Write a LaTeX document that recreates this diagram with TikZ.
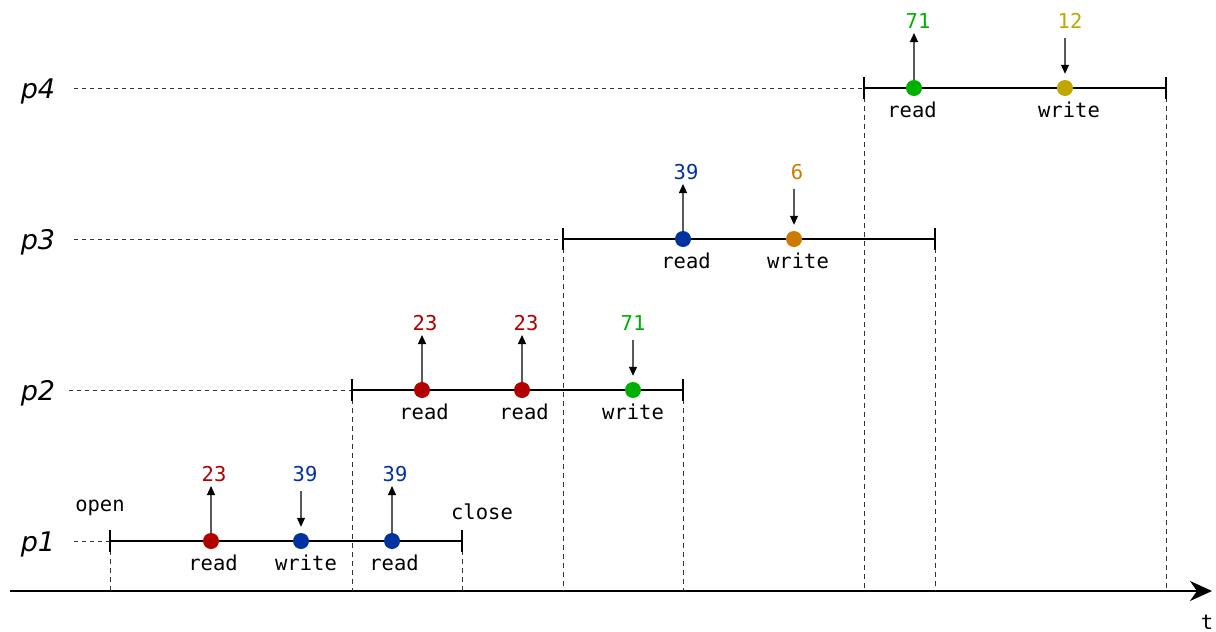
\documentclass[tikz,border=0pt]{standalone}
\usepackage{fontspec}
\setmonofont{DejaVu Sans Mono}
\newfontfamily\rowfont{DejaVu Sans}
\usepackage{tikz}
\usetikzlibrary{arrows.meta, positioning}

\definecolor{valred}{RGB}{178,0,0}
\definecolor{valblue}{RGB}{0,51,160}
\definecolor{valgreen}{RGB}{0,176,0}
\definecolor{valorange}{RGB}{204,122,0}
\definecolor{valolive}{RGB}{191,166,0}

\tikzset{
  proc/.style={font=\rowfont\itshape\fontsize{27}{30}\selectfont, inner sep=0pt},
  opname/.style={font=\ttfamily\fontsize{20.5}{24}\selectfont, inner sep=1pt},
  val/.style={font=\ttfamily\fontsize{20.5}{24}\selectfont, inner sep=4pt, anchor=south},
  event/.style={circle, inner sep=0pt, minimum size=16pt},
  span/.style={line width=2pt},
  tick/.style={line width=2pt},
  leader/.style={dash pattern=on 4pt off 4pt, line width=0.9pt, black!80},
  guide/.style={dash pattern=on 5pt off 4pt, line width=0.9pt, black!80},
  ptr/.style={-{Triangle[length=9pt,width=8pt,black]}, line width=1.1pt, black!65},
}

\begin{document}
\begin{tikzpicture}[x=1pt, y=-1pt]
\useasboundingbox (0,0) rectangle (1216,632);

% time axis
\coordinate (t0) at (10,591);
\coordinate (t1) at (1212,591);
\draw[line width=2pt, -{Stealth[length=22pt,width=20pt,inset=7pt]}] (t0) -- (t1);
\node[opname] (tlab) at (1207,622) {t};

% process rows
\node[proc] (p1) at (38,544) {p1};
\node[proc] (p2) at (38,393) {p2};
\node[proc] (p3) at (38,242) {p3};
\node[proc] (p4) at (38,91) {p4};

\coordinate (a1) at (110,541);  \coordinate (b1) at (462,541);
\coordinate (a2) at (352,390);  \coordinate (b2) at (683,390);
\coordinate (a3) at (563,239);  \coordinate (b3) at (935,239);
\coordinate (a4) at (864,88);   \coordinate (b4) at (1166,88);

\draw[leader, shorten <=19pt] (p1.east |- a1) -- (a1);
\draw[leader, shorten <=14pt] (p2.east |- a2) -- (a2);
\draw[leader, shorten <=19pt] (p3.east |- a3) -- (a3);
\draw[leader, shorten <=19pt] (p4.east |- a4) -- (a4);

\foreach \i in {1,2,3,4} {
  \draw[guide] (a\i) -- (a\i |- t0);
  \draw[guide] (b\i) -- (b\i |- t0);
  \draw[span] (a\i) -- (b\i);
  \draw[tick] ([yshift=-11pt]a\i) -- ([yshift=11pt]a\i);
  \draw[tick] ([yshift=-11pt]b\i) -- ([yshift=11pt]b\i);
}

\node[opname] (open) at (100,508) {open};
\node[opname] (close) at (482,512) {close};

% p1 events
\node[event, fill=valred] (e11) at (211,541) {};
\node[event, fill=valblue] (e12) at (301,541) {};
\node[event, fill=valblue] (e13) at (392,541) {};
\node[opname, below=5pt of e11, xshift=2pt] (n11) {read};
\node[opname, below=5pt of e12, xshift=5pt] (n12) {write};
\node[opname, below=5pt of e13, xshift=2pt] (n13) {read};
\node[val, text=valred] (v11) at (214,486) {23};
\node[val, text=valblue] (v12) at (305,486) {39};
\node[val, text=valblue] (v13) at (395,486) {39};
\draw[ptr] (e11.north) -- (v11.south -| e11);
\draw[ptr, shorten <=5pt, shorten >=6pt] (v12.south -| e12) -- (e12.north);
\draw[ptr] (e13.north) -- (v13.south -| e13);

% p2 events
\node[event, fill=valred] (e21) at (422,390) {};
\node[event, fill=valred] (e22) at (522,390) {};
\node[event, fill=valgreen] (e23) at (633,390) {};
\node[opname, below=5pt of e21, xshift=2pt] (n21) {read};
\node[opname, below=5pt of e22, xshift=2pt] (n22) {read};
\node[opname, below=5pt of e23] (n23) {write};
\node[val, text=valred] (v21) at (425,335) {23};
\node[val, text=valred] (v22) at (526,335) {23};
\node[val, text=valgreen] (v23) at (633,335) {71};
\draw[ptr] (e21.north) -- (v21.south -| e21);
\draw[ptr] (e22.north) -- (v22.south -| e22);
\draw[ptr, shorten <=5pt, shorten >=6pt] (v23.south) -- (e23.north);

% p3 events
\node[event, fill=valblue] (e31) at (683,239) {};
\node[event, fill=valorange] (e32) at (794,239) {};
\node[opname, below=5pt of e31, xshift=3pt] (n31) {read};
\node[opname, below=5pt of e32, xshift=4pt] (n32) {write};
\node[val, text=valblue] (v31) at (686,184) {39};
\node[val, text=valorange] (v32) at (797,184) {6};
\draw[ptr] (e31.north) -- (v31.south -| e31);
\draw[ptr, shorten <=5pt, shorten >=6pt] (v32.south -| e32) -- (e32.north);

% p4 events
\node[event, fill=valgreen] (e41) at (914,88) {};
\node[event, fill=valolive] (e42) at (1065,88) {};
\node[opname, below=5pt of e41, xshift=-2pt] (n41) {read};
\node[opname, below=5pt of e42, xshift=4pt] (n42) {write};
\node[val, text=valgreen] (v41) at (918,33) {71};
\node[val, text=valolive] (v42) at (1070,33) {12};
\draw[ptr] (e41.north) -- (v41.south -| e41);
\draw[ptr, shorten <=5pt, shorten >=6pt] (v42.south -| e42) -- (e42.north);
\end{tikzpicture}
\end{document}
